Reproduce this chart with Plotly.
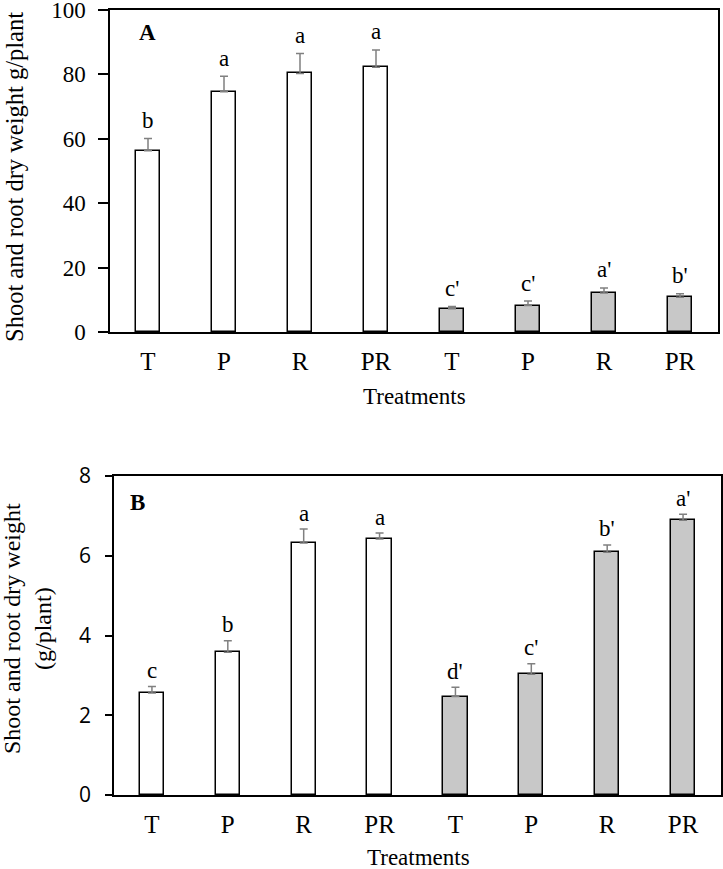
import plotly.graph_objects as go

# ---- data ----
treatments = ["T", "P", "R", "PR", "T", "P", "R", "PR"]
a_means = [56.3, 74.6, 80.3, 82.2, 7.2, 8.2, 12.1, 10.8]
a_err = [3.8, 4.8, 6.2, 5.4, 0.7, 1.4, 1.6, 1.1]
a_letters = ["b", "a", "a", "a", "c'", "c'", "a'", "b'"]

b_means = [2.56, 3.58, 6.32, 6.42, 2.47, 3.03, 6.09, 6.89]
b_err = [0.16, 0.29, 0.35, 0.15, 0.23, 0.26, 0.18, 0.15]
b_letters = ["c", "b", "a", "a", "d'", "c'", "b'", "a'"]

W, H = 723, 869
SERIF = "Liberation Serif"
SANS = "Open Sans"
xpos = list(range(len(treatments)))
colors = ["white"] * 4 + ["#c8c8c8"] * 4


def px_x(v):
    return v / W


def px_y(v):
    return 1 - v / H


fig = go.Figure()


def add_panel(means, errs, xa, ya):
    fig.add_trace(go.Bar(
        x=xpos, y=means, width=0.32,
        marker=dict(color=colors, line=dict(color="black", width=1.5)),
        error_y=dict(type="data", symmetric=False, array=errs,
                     arrayminus=[0] * len(errs), color="#808080",
                     thickness=1.5, width=4),
        xaxis=xa, yaxis=ya, showlegend=False, hoverinfo="skip",
    ))


add_panel(a_means, a_err, "x", "y")
add_panel(b_means, b_err, "x2", "y2")


def txt(x, y, text, size=23, family=SERIF, angle=0, **kw):
    d = dict(x=x, y=y, xref="paper", yref="paper", text=text, showarrow=False,
             xanchor="center", yanchor="middle", textangle=angle,
             font=dict(family=family, size=size, color="black"))
    d.update(kw)
    return d


annotations = []
for i, (m, e, t) in enumerate(zip(a_means, a_err, a_letters)):
    annotations.append(dict(x=i, y=m + e, xref="x", yref="y", text=t,
                            showarrow=False, xanchor="center", yanchor="middle",
                            yshift=18,
                            font=dict(family=SERIF, size=23, color="black")))
for i, (m, e, t) in enumerate(zip(b_means, b_err, b_letters)):
    annotations.append(dict(x=i, y=m + e, xref="x2", yref="y2", text=t,
                            showarrow=False, xanchor="center", yanchor="middle",
                            yshift=16,
                            font=dict(family=SERIF, size=23, color="black")))

# panel labels
annotations.append(txt(px_x(147), px_y(33), "<b>A</b>"))
annotations.append(txt(px_x(137), px_y(502), "<b>B</b>"))
# axis titles
annotations.append(txt(px_x(14), px_y(177), "Shoot and root dry weight g/plant",
                       size=24.5, angle=-90))
annotations.append(txt(px_x(27), px_y(629),
                       "Shoot and root dry weight<br>(g/plant)",
                       size=24, angle=-90))
annotations.append(txt(px_x(414), px_y(397), "Treatments"))
annotations.append(txt(px_x(418), px_y(857), "Treatments"))

xaxis_common = dict(range=[-0.5, 7.5], tickvals=xpos, ticktext=treatments,
                    showline=True, linecolor="black", linewidth=1.5, mirror=True,
                    ticks="", showgrid=False, zeroline=False, automargin=False,
                    ticklabeloverflow="allow",
                    tickfont=dict(family=SERIF, size=25, color="black"),
                    ticklabelstandoff=6)

fig.update_layout(
    width=W, height=H, autosize=False,
    margin=dict(l=0, r=0, t=0, b=0, pad=0),
    paper_bgcolor="white", plot_bgcolor="white",
    bargap=0,
    xaxis=dict(domain=[px_x(110), px_x(718)], anchor="y", **xaxis_common),
    yaxis=dict(domain=[px_y(332), px_y(10)], anchor="x", range=[0, 100],
               tickvals=[0, 20, 40, 60, 80, 100], ticks="outside", ticklen=10,
               tickcolor="black", tickwidth=1.5, automargin=False,
               ticklabeloverflow="allow",
               showline=True, linecolor="black", linewidth=1.5, mirror=True,
               showgrid=False, zeroline=False, ticklabelstandoff=8,
               tickfont=dict(family=SERIF, size=23, color="black")),
    xaxis2=dict(domain=[px_x(114), px_x(721)], anchor="y2", **xaxis_common),
    yaxis2=dict(domain=[px_y(795), px_y(476)], anchor="x2", range=[0, 8],
                tickvals=[0, 2, 4, 6, 8], ticks="outside", ticklen=7,
                tickcolor="black", tickwidth=1.5, automargin=False,
                ticklabeloverflow="allow",
                showline=True, linecolor="black", linewidth=1.5, mirror=True,
                showgrid=False, zeroline=False, ticklabelstandoff=10,
                tickfont=dict(family=SANS, size=21, color="black")),
    annotations=annotations,
)

fig.write_html("out.html", config={"displayModeBar": False},
               post_script="document.body.style.margin='0px';")
